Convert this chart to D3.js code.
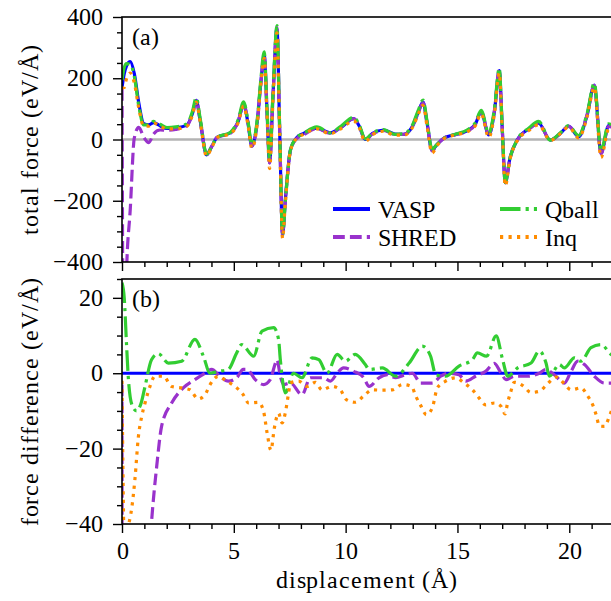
<!DOCTYPE html>
<html>
<head>
<meta charset="utf-8">
<script src="https://cdn.jsdelivr.net/npm/d3@7"></script>
<style>
  @font-face {
    font-family: "ChartSerif";
    src: local("Liberation Serif"), local("LiberationSerif"), local("LiberationSerif-Regular"), local("Liberation Serif Regular");
  }
  body { margin: 0; }
  #chart text { font-family: "ChartSerif", "Liberation Serif", "Times New Roman", Tinos !important; }
</style>
</head>
<body>
<svg id="chart" width="611" height="601"></svg>
<script>
// panel (a): total force on a shared displacement grid
const displacement = [0, 0.1, 0.2, 0.37, 0.55, 0.75, 0.97, 1.2, 1.41, 1.7, 2.01, 2.4, 2.9, 3.15, 3.32, 3.5, 3.78, 4.0, 4.25, 4.84,
  5.2, 5.44, 5.62, 5.81, 6.05, 6.2, 6.36, 6.48, 6.6, 6.75, 6.93, 7.05, 7.18, 7.3, 7.53, 7.8, 8.12, 8.71, 9.31, 9.8,
  10.36, 10.6, 10.88, 11.2, 11.7, 12.2, 12.6, 13.0, 13.25, 13.46, 13.65, 13.86, 14.1, 14.38, 14.9, 15.43, 15.8, 16.06, 16.4, 16.65,
  16.87, 17.0, 17.14, 17.35, 17.67, 18.2, 18.63, 19.15, 19.6, 19.97, 20.42, 20.8, 21.12, 21.42, 21.76, 22];
const vaspForce = [170, 215, 240, 254, 215, 120, 52, 48, 55, 45, 36, 38, 47, 85, 128, 60, -50, -25, 7, 22,
  60, 115, 60, -22, 60, 180, 275, 100, -75, 140, 362, 30, -310, -200, -35, 5, 20, 37, 22, 40,
  68, 45, 0, 20, 31, 18, 17, 45, 90, 122, 50, -35, -15, 4, 16, 28, 50, 90, 15, 90,
  225, 40, -140, -60, -2, 35, 53, -2, 20, 44, 9, 80, 178, -45, 45, 40];
const shredForce = [165, -1200, -440, -227, 5, 40, 8, -10, 18, 31, 30, 33, 45, 83, 127, 60, -50, -24, 7, 20,
  60, 116, 61, -22, 58, 177, 272, 98, -77, 139, 366, 30, -313, -203, -38, 2, 15, 36, 20, 41,
  68, 45, -1, 18, 30, 17, 17, 45, 88, 120, 48, -37, -16, 4, 16, 26, 49, 90, 16, 93,
  226, 40, -142, -61, -3, 34, 53, -2, 19, 43, 12, 82, 177, -47, 43, 38];
const qballForce = [194, 235, 248, 246, 206, 110, 48, 48, 59, 50, 39, 41, 51, 92, 137, 67, -48, -25, 7, 23,
  66, 123, 67, -17, 67, 190, 286, 111, -64, 152, 372, 38, -312, -205, -35, 5, 20, 41, 22, 44,
  73, 49, 2, 21, 32, 17, 19, 49, 96, 129, 55, -31, -15, 3, 17, 31, 55, 95, 20, 99,
  233, 44, -141, -60, -1, 38, 59, -2, 22, 45, 13, 86, 184, -38, 51, 45];
const inqForce = [168, 170, 198, 217, 185, 103, 44, 44, 54, 44, 35, 35, 43, 80, 121, 54, -54, -28, 6, 19,
  56, 109, 53, -29, 52, 172, 265, 85, -95, 124, 348, 19, -323, -211, -38, 3, 17, 35, 19, 36,
  61, 39, -6, 16, 27, 14, 14, 41, 83, 112, 39, -44, -19, 2, 15, 25, 45, 84, 7, 82,
  217, 31, -151, -65, -5, 30, 48, -3, 19, 41, 5, 75, 170, -59, 33, 32];

// panel (b): force difference with respect to VASP
const vaspDiffX = [0, 22];
const vaspDiff = [0, 0];
const shredDiffX = [0, 0.1, 0.4, 0.8, 1.1, 1.32, 1.55, 1.77, 2.22, 2.74, 3.26, 3.71, 4.01, 4.38, 4.75, 5.13, 5.42, 5.59, 5.96, 6.33,
  6.63, 6.86, 6.93, 7.08, 7.23, 7.53, 8.05, 8.42, 9.02, 9.32, 9.62, 9.91, 10.36, 10.81, 11.05, 11.49, 11.87, 12.24, 12.68, 12.98,
  13.36, 13.88, 14.25, 14.62, 15.07, 15.37, 15.81, 16.26, 16.65, 16.95, 17.17, 17.55, 18.14, 18.66, 18.96, 19.33, 19.78, 20.08, 20.38, 20.68,
  21.12, 21.57, 22];
const shredDiff = [-3, -1200, -400, -140, -60, -39.5, -24.8, -14.1, -7.9, -3.9, -1.7, 0, 1, -0.8, -2.1, -1.2, 1, 1, -1.7, -3,
  -1.7, 2.7, 3.6, -0.8, -3, -2.6, -5.7, -1.2, -1.2, -2.1, 0, 1.4, 0.5, -1.2, -3.5, -1.2, -0.4, -1.2, -0.4, 0,
  -2.6, -2.6, -0.8, 0, -0.4, -2.1, -0.8, 0.5, 2.6, 0, -1.7, -0.8, -0.8, 0, 1, -0.4, -2.6, 0.5, 3.2, 2.3,
  -0.8, -2.6, -2.6];
const qballDiffX = [0, 0.1, 0.2, 0.28, 0.45, 0.65, 0.85, 1.03, 1.32, 1.62, 2.07, 2.67, 3.26, 3.64, 3.94, 4.31, 4.75, 5.13, 5.35, 5.89,
  6.26, 6.78, 7.0, 7.08, 7.3, 7.67, 8.05, 8.5, 8.8, 9.17, 9.62, 9.99, 10.43, 10.88, 11.05, 11.64, 12.24, 12.84, 13.43, 13.8,
  14.03, 14.47, 15.07, 15.67, 15.89, 16.3, 16.73, 17.02, 17.25, 17.69, 18.29, 18.66, 18.96, 19.11, 19.56, 19.78, 20.23, 20.53, 20.97, 21.42,
  21.87, 22];
const qballDiff = [24, 20, 8, -1, -8.5, -10, -8, -3.5, 3.6, 5.2, 2.7, 3.2, 9, 4.5, 0, 0.5, 1, 5.4, 7.6, 4.5,
  11.2, 12.1, 9, 3.6, -5.2, 0, -1.2, 4.1, 3.6, 0, 5, 3.2, 5, 2.3, 1, 1.4, -0.8, 2.7, 7.2, 4.5,
  -0.4, -0.8, 1.9, 3.6, 5.4, 4.5, 9.9, 3.6, -0.8, 1.4, 2.7, 5.9, 2.7, -0.8, 2.3, 1.4, 4.1, 3.2, 6.8, 7.6,
  5, 4.5];
const inqDiffX = [0, 0.05, 0.12, 0.2, 0.3, 0.43, 0.58, 0.73, 0.88, 1.03, 1.25, 1.47, 1.85, 2.22, 2.67, 3.04, 3.41, 3.71, 3.94, 4.31,
  4.68, 5.05, 5.42, 5.66, 6.11, 6.33, 6.49, 6.66, 6.81, 7.0, 7.16, 7.3, 7.45, 7.53, 7.9, 8.27, 8.65, 8.94, 9.39, 9.76,
  10.03, 10.43, 10.81, 11.19, 11.64, 12.09, 12.54, 12.95, 13.13, 13.36, 13.61, 13.88, 14.1, 14.47, 14.92, 15.3, 15.67, 15.97, 16.26, 16.65,
  16.95, 17.13, 17.24, 17.37, 17.54, 17.92, 18.29, 18.66, 19.04, 19.41, 19.75, 20.08, 20.53, 20.82, 21.05, 21.2, 21.35, 21.57, 21.79, 22];
const inqDiff = [-2, -30, -50, -42, -40, -36, -28, -17, -11.5, -7.9, -3.5, -0.8, -0.8, -3.5, -3.9, -4.4, -6.8, -5.7, -3, -0.8,
  -2.1, -3.5, -5.7, -7.9, -7.7, -10.1, -15.9, -20.4, -14.6, -10.6, -13.2, -10.6, -5.2, -2.6, -2.1, -3.5, -2.4, -4.4, -3.5, -4.4,
  -7, -7.7, -6, -4.4, -4.5, -4.4, -3, -3.5, -6, -8.6, -11, -9.1, -3.9, -2.1, -1.2, -2.6, -4.4, -6.6, -8.4, -7.9,
  -8.8, -10.8, -7.9, -5.2, -2.4, -3.3, -5.1, -4.8, -2.7, -1, -2.6, -4.4, -3.9, -6, -8.4, -11, -14, -14.1, -11.5, -8];

const seriesNames = ["VASP", "SHRED", "Qball", "Inq"];
const xTicks = [0, 5, 10, 15, 20];
const topTicks = [-400, -200, 0, 200, 400];
const bottomTicks = [-40, -20, 0, 20];

const styles = {
    VASP:  { color: "#0000ff", dash: null },
    SHRED: { color: "#9932cc", dash: "11.8,5.1" },
    Qball: { color: "#32cd32", dash: "20.5,5.1,3.2,5.1" },
    Inq:   { color: "#ff8c00", dash: "3.2,5.3" }
};
const LW = 3.2;

const svg = d3.select("#chart");
const left = 122, right = 614;
const x = d3.scaleLinear().domain([0, 22]).range([left, right]);
const yTop = d3.scaleLinear().domain([-400, 400]).range([262, 17]);
const yBot = d3.scaleLinear().domain([-40, 25]).range([524, 279]);

const fmt = v => (v < 0 ? "\u2212" + Math.abs(v) : String(v));

function addText(parent, str) {
    return parent.append("text")
        .attr("font-size", 24)
        .attr("fill", "#000")
        .text(str);
}

function panel(id, y, majorY, minorStep, name) {
    const [y0, y1] = y.domain();
    const top = y.range()[1], bottom = y.range()[0];

    svg.append("clipPath").attr("id", "clip-" + id)
        .append("rect")
        .attr("x", left).attr("y", top)
        .attr("width", right - left).attr("height", bottom - top);

    const g = svg.append("g");
    const plot = g.append("g").attr("clip-path", `url(#clip-${id})`);

    // minor ticks
    const yMinor = d3.range(y0, y1 + 0.001, minorStep).filter(v => !majorY.includes(v));
    g.append("g").attr("transform", `translate(${left},0)`)
        .call(d3.axisLeft(y).tickValues(yMinor).tickSize(5).tickFormat(""))
        .call(a => a.select(".domain").remove());
    g.append("g").attr("transform", `translate(0,${bottom})`)
        .call(d3.axisBottom(x).tickValues(d3.range(0, 23).filter(v => v % 5 !== 0)).tickSize(5).tickFormat(""))
        .call(a => a.select(".domain").remove());

    // major ticks
    g.append("g").attr("transform", `translate(${left},0)`)
        .call(d3.axisLeft(y).tickValues(majorY).tickSize(9).tickPadding(10).tickFormat(fmt))
        .call(a => a.select(".domain").remove());
    g.append("g").attr("transform", `translate(0,${bottom})`)
        .call(d3.axisBottom(x).tickValues(xTicks).tickSize(9).tickPadding(9)
            .tickFormat(id === "b" ? fmt : ""))
        .call(a => a.select(".domain").remove());

    g.selectAll(".tick text").attr("font-size", 24);
    g.selectAll(".tick line").attr("stroke", "#000").attr("stroke-width", 1.4);

    // frame
    g.append("rect")
        .attr("x", left).attr("y", top)
        .attr("width", right - left).attr("height", bottom - top)
        .attr("fill", "none").attr("stroke", "#000").attr("stroke-width", 1.6);

    addText(g, name).attr("x", 132).attr("y", top + 28);

    return plot;
}

function drawLine(plot, xs, ys, y, name) {
    const line = d3.line()
        .x((d, i) => x(xs[i]))
        .y(d => y(d))
        .curve(d3.curveMonotoneX);
    plot.append("path")
        .datum(ys)
        .attr("d", line)
        .attr("fill", "none")
        .attr("stroke", styles[name].color)
        .attr("stroke-width", LW)
        .attr("stroke-dasharray", styles[name].dash);
}

// (a) total force
const plotA = panel("a", yTop, topTicks, 50, "(a)");
plotA.append("line")
    .attr("x1", left).attr("x2", right)
    .attr("y1", yTop(0)).attr("y2", yTop(0))
    .attr("stroke", "#b3b3b3").attr("stroke-width", 2.5);
drawLine(plotA, displacement, vaspForce, yTop, "VASP");
drawLine(plotA, displacement, shredForce, yTop, "SHRED");
drawLine(plotA, displacement, qballForce, yTop, "Qball");
drawLine(plotA, displacement, inqForce, yTop, "Inq");

// (b) force difference
const plotB = panel("b", yBot, bottomTicks, 5, "(b)");
drawLine(plotB, vaspDiffX, vaspDiff, yBot, "VASP");
drawLine(plotB, shredDiffX, shredDiff, yBot, "SHRED");
drawLine(plotB, qballDiffX, qballDiff, yBot, "Qball");
drawLine(plotB, inqDiffX, inqDiff, yBot, "Inq");

// axis titles
addText(svg, "total force (eV/\u00c5)")
    .attr("transform", `translate(38,${(17 + 262) / 2}) rotate(-90)`)
    .attr("text-anchor", "middle")
    .attr("letter-spacing", 0.9);
addText(svg, "force difference (eV/\u00c5)")
    .attr("transform", `translate(38,${(279 + 524) / 2}) rotate(-90)`)
    .attr("text-anchor", "middle")
    .attr("letter-spacing", 0.9);
addText(svg, "displacement (\u00c5)")
    .attr("x", 367).attr("y", 588)
    .attr("text-anchor", "middle")
    .attr("letter-spacing", 0.9);

// legend, two columns
const legendPos = [[333, 209], [333, 237], [500, 209], [500, 237]];
seriesNames.forEach((name, i) => {
    const [lx, ly] = legendPos[i];
    svg.append("line")
        .attr("x1", lx).attr("x2", lx + 37)
        .attr("y1", ly).attr("y2", ly)
        .attr("stroke", styles[name].color)
        .attr("stroke-width", LW + 0.6)
        .attr("stroke-dasharray", styles[name].dash);
    addText(svg, name).attr("x", lx + 45).attr("y", ly + 9);
});
</script>
</body>
</html>
